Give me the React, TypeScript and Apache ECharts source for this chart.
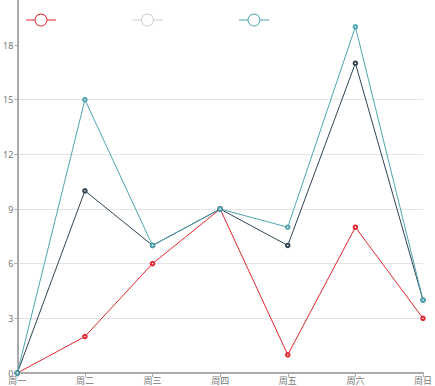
import React, { useEffect, useRef } from "react";
import * as echarts from "echarts";

const categories = ["周一", "周二", "周三", "周四", "周五", "周六", "周日"];
const seriesNames = ["A", "B", "C"];
const redValues = [0, 2, 6, 9, 1, 8, 3];
const darkValues = [0, 10, 7, 9, 7, 17, 4];
const tealValues = [0, 15, 7, 9, 8, 19, 4];
const yTicks = [0, 3, 6, 9, 12, 15, 18];

const legendIcon =
  "path://M0,6.5L8.5,6.5L8.5,7.5L0,7.5Z" +
  "M21.5,6.5L30,6.5L30,7.5L21.5,7.5Z" +
  "M8.5,7A6.5,6.5 0 1 1 21.5,7A6.5,6.5 0 1 1 8.5,7Z" +
  "M9.5,7A5.5,5.5 0 1 0 20.5,7A5.5,5.5 0 1 0 9.5,7Z";

export default function App() {
  const ref = useRef<HTMLDivElement>(null);
  useEffect(() => {
    if (!ref.current) return;
    const chart = echarts.init(ref.current, undefined, { renderer: "svg" });
    const axisColor = "#aaa";
    chart.setOption({
      animation: false,
      legend: {
        left: 21,
        top: 8,
        icon: legendIcon,
        itemWidth: 30,
        itemHeight: 14,
        itemGap: 76.5,
        formatter: () => "",
        itemStyle: { borderWidth: 0 },
        data: [
          { name: seriesNames[0] },
          { name: seriesNames[1], itemStyle: { color: "#ccc", borderWidth: 0 } },
          { name: seriesNames[2] },
        ],
      },
      grid: { left: 14, right: 8, top: 0, bottom: 13, containLabel: false },
      xAxis: {
        type: "category",
        boundaryGap: false,
        data: categories,
        axisLine: { lineStyle: { color: axisColor, width: 2 } },
        axisTick: { length: 4, lineStyle: { color: axisColor } },
        axisLabel: { color: "#777", fontSize: 9, margin: 3, fontFamily: "Noto Sans CJK SC" },
      },
      yAxis: {
        type: "value",
        min: 0,
        max: 20.47,
        interval: 3,
        axisLine: { show: true, lineStyle: { color: axisColor, width: 2 } },
        axisTick: { show: true, length: 3, customValues: yTicks, lineStyle: { color: axisColor } },
        axisLabel: { color: "#777", fontSize: 9, margin: 4, customValues: yTicks, fontFamily: "Noto Sans" },
        splitLine: { show: true, showMaxLine: false, lineStyle: { color: "#e4e4e4" } },
      },
      series: [
        {
          name: seriesNames[0],
          type: "line",
          data: redValues,
          symbol: "emptyCircle",
          symbolSize: 3.5,
          itemStyle: { color: "#e0262f", borderWidth: 0.7 },
          lineStyle: { width: 1, color: "#e0262f" },
        },
        {
          name: seriesNames[1],
          type: "line",
          data: darkValues,
          symbol: "emptyCircle",
          symbolSize: 3.5,
          itemStyle: { color: "#2f4554", borderWidth: 0.7 },
          lineStyle: { width: 1, color: "#2f4554" },
        },
        {
          name: seriesNames[2],
          type: "line",
          data: tealValues,
          symbol: "emptyCircle",
          symbolSize: 3.5,
          itemStyle: { color: "#4ea5b0", borderWidth: 0.7 },
          lineStyle: { width: 1, color: "#4ea5b0" },
        },
      ],
    });
    return () => chart.dispose();
  }, []);
  return <div ref={ref} style={{ width: 435, height: 386, position: "absolute", left: 0, top: 0 }} />;
}
